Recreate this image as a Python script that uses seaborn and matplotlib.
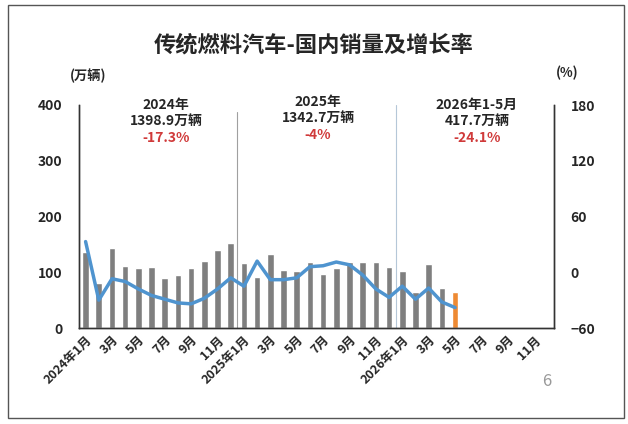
import numpy as np
import pandas as pd
import matplotlib
matplotlib.use("Agg")
import matplotlib.pyplot as plt
import seaborn as sns
from matplotlib.patches import Rectangle

# monthly domestic sales (10k units), 2024-01 .. 2026-05
sales_2024 = [137, 80, 143, 112, 108, 110, 89, 95, 108, 121, 140, 152]
sales_2025 = [116, 92, 133, 104, 103, 118, 97, 107, 118, 119, 118, 110]
sales_2026 = [102, 65, 114, 71, 65]

# year-on-year growth (%)
growth_2024 = [33, -30, -7, -10, -18, -25, -29, -33, -34, -28, -18, -6]
growth_2025 = [-15, 12, -8, -8, -6, 6, 7, 11, 8, -3, -18, -27]
growth_2026 = [-15, -29, -17, -32, -38]

tick_labels = ["2024年1月", "3月", "5月", "7月", "9月", "11月",
               "2025年1月", "3月", "5月", "7月", "9月", "11月",
               "2026年1月", "3月", "5月", "7月", "9月", "11月"]

n_months = 36
sales = sales_2024 + sales_2025 + sales_2026
growth = growth_2024 + growth_2025 + growth_2026

df = pd.DataFrame({"m": list(range(n_months))})
df["sales"] = sales + [np.nan] * (n_months - len(sales))
df["kind"] = ["hist"] * (len(sales) - 1) + ["cur"] + ["none"] * (n_months - len(sales))

line_df = pd.DataFrame({"m": list(range(len(growth))), "growth": growth})

sns.set_style("white")
plt.rcParams['font.family'] = ['Noto Sans CJK SC', 'DejaVu Sans']

fig = plt.figure(figsize=(6.28, 4.24), dpi=100)
W, H = 628, 424
ax = fig.add_axes([79 / W, 1 - 328 / H, (554 - 79) / W, (328 - 105) / H])

sns.barplot(data=df, x="m", y="sales", hue="kind", order=list(range(n_months)),
            palette={"hist": "#7f7f7f", "cur": "#ee8a33", "none": "#7f7f7f"},
            dodge=False, width=0.5, legend=False, ax=ax, saturation=1)

ax.set_xlim(-0.5, 35.5)
ax.set_ylim(0, 400)
ax.set_yticks([0, 100, 200, 300, 400])
ax.set_xticks(list(range(0, n_months, 2)))
ax.set_xticklabels(tick_labels, rotation=45, ha="right", rotation_mode="anchor",
                   fontweight="bold", fontsize=9)
for t in ax.get_yticklabels():
    t.set_fontweight("bold")
    t.set_fontsize(10)
ax.set_xlabel("")
ax.set_ylabel("")
ax.tick_params(axis="both", length=0, pad=4)
ax.tick_params(axis="y", pad=12)

ax2 = ax.twinx()
sns.lineplot(data=line_df, x="m", y="growth", ax=ax2, color="#4f94cf", linewidth=2.5)
ax2.set_ylim(-60, 180)
ax2.set_yticks([-60, 0, 60, 120, 180])
for t in ax2.get_yticklabels():
    t.set_fontweight("bold")
    t.set_fontsize(10)
ax2.set_ylabel("")
ax2.tick_params(axis="y", length=0, pad=12)

for a in (ax, ax2):
    a.spines["top"].set_visible(False)
    for s in ("left", "right", "bottom"):
        a.spines[s].set_color("#333333")
        a.spines[s].set_linewidth(1)

# year separators
ax.axvline(11.5, ymin=0, ymax=0.97, color="#a0a0a0", linewidth=0.8)
ax.axvline(23.5, ymin=0, ymax=1.0, color="#b5c7d8", linewidth=0.8)


def px(x, y):
    return x / W, 1 - y / H


fig.text(*px(314, 45), "传统燃料汽车-国内销量及增长率", ha="center", va="center",
         fontsize=16, fontweight="bold")
fig.text(*px(88, 76), "(万辆)", ha="center", va="center", fontsize=9.5, fontweight="bold")
fig.text(*px(567, 73), "(%)", ha="center", va="center", fontsize=9.5, fontweight="bold")

notes = [(166, "2024年", "1398.9万辆", "-17.3%", 0),
         (318, "2025年", "1342.7万辆", "-4%", -3),
         (477, "2026年1-5月", "417.7万辆", "-24.1%", 0)]
for x, l1, l2, l3, dy in notes:
    fig.text(*px(x, 105 + dy), l1, ha="center", va="center", fontsize=10, fontweight="bold")
    fig.text(*px(x, 121 + dy), l2, ha="center", va="center", fontsize=10, fontweight="bold")
    fig.text(*px(x, 138 + dy), l3, ha="center", va="center", fontsize=10,
             fontweight="bold", color="#d03a3a")

fig.text(*px(547, 382), "6", ha="center", va="center", fontsize=12, color="#999999")

fig.patches.append(Rectangle(px(8, 418), (624 - 8) / W, (418 - 5) / H,
                             transform=fig.transFigure, fill=False,
                             edgecolor="#555555", linewidth=1))

fig.savefig("out.png", dpi=100)
